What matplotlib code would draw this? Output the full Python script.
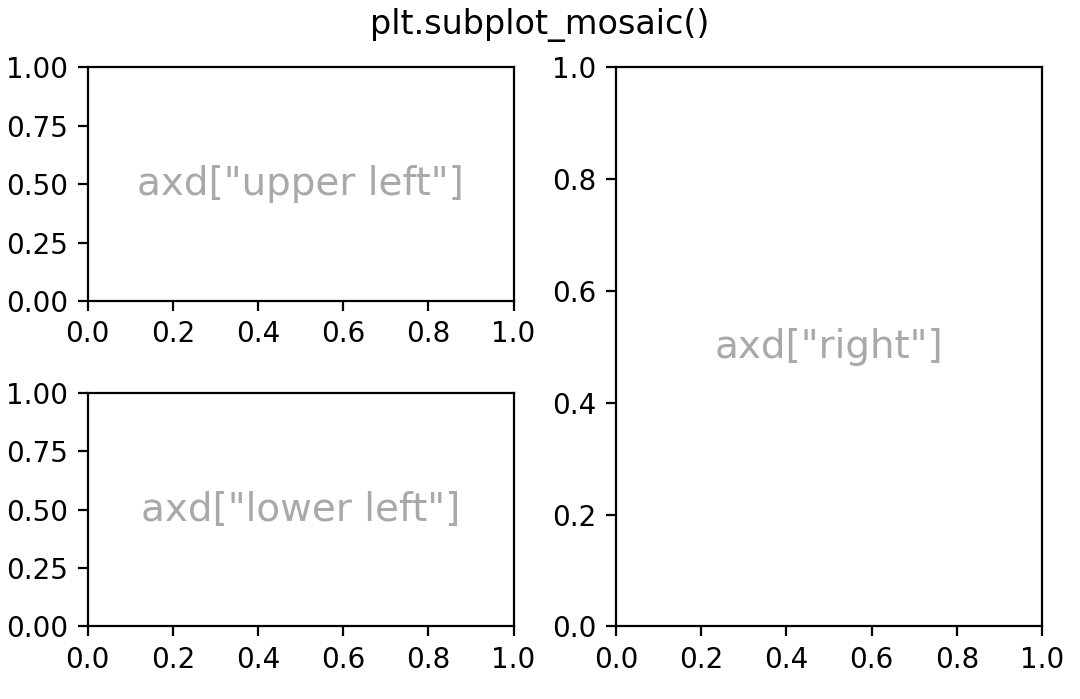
import matplotlib

matplotlib.use("Agg")
import matplotlib.pyplot as plt

# mosaic layout and panel labels
MOSAIC = [["upper left", "right"],
          ["lower left", "right"]]
PANEL_KEYS = ["upper left", "right", "lower left"]


def annotate_axes(ax, text, fontsize=14):
    ax.text(0.5, 0.5, text, transform=ax.transAxes,
            ha="center", va="center", fontsize=fontsize, color="darkgrey")


fig = plt.figure(figsize=(5.4, 3.495), dpi=200, layout="constrained")
# leave a bit of blank space at the bottom/right like the reference
fig.get_layout_engine().set(rect=(-0.002, 0.024, 0.995, 0.98), hspace=0.015)
axd = fig.subplot_mosaic(MOSAIC)
for k in PANEL_KEYS:
    annotate_axes(axd[k], f'axd["{k}"]', fontsize=14)
fig.suptitle("plt.subplot_mosaic()")

fig.savefig("out.png", dpi=200)
